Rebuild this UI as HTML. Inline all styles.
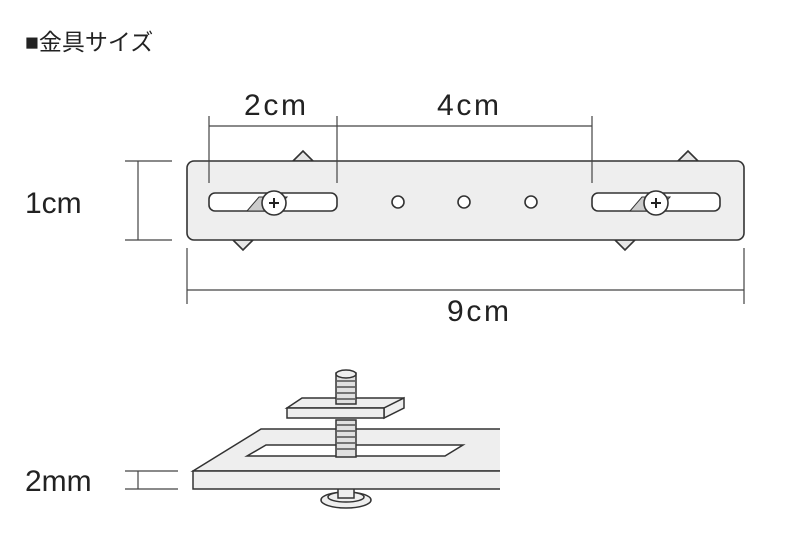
<!DOCTYPE html><html><head><style>body{margin:0;background:#fff}svg{display:block}text{font-family:"Liberation Sans","Noto Sans CJK JP",sans-serif;fill:#222}</style></head><body>
<svg width="800" height="560" viewBox="0 0 800 560" xmlns="http://www.w3.org/2000/svg">
<text x="25" y="50" font-size="23">■金具サイズ</text>
<g stroke="#333" stroke-width="1.6" fill="#e6e6e6">
<path d="M293 161 L303 151 L313 161Z M233 240 L243 250 L253 240Z M678 161 L688 151 L698 161Z M615 240 L625 250 L635 240Z"/>
<rect x="187" y="161" width="557" height="79" rx="7" fill="#eee"/>
<rect x="209" y="193" width="128" height="18" rx="6" fill="#fff"/>
<rect x="592" y="193" width="128" height="18" rx="6" fill="#fff"/>
<path d="M247 211 L259 197 L287 197 L275 211Z M630 211 L642 197 L670 197 L658 211Z" fill="#ccc" stroke-width="1"/>
<circle cx="274" cy="203" r="12" fill="#fff"/><circle cx="656" cy="203" r="12" fill="#fff"/>
<circle cx="398" cy="202" r="6" fill="#fff"/><circle cx="464" cy="202" r="6" fill="#fff"/><circle cx="531" cy="202" r="6" fill="#fff"/>
</g>
<g stroke="#222" stroke-width="2"><path d="M269 203h10M274 198v10M651 203h10M656 198v10"/></g>
<g stroke="#444" stroke-width="1.2" fill="none">
<path d="M209 116V183M337 116V183M592 116V183M209 126H592"/>
<path d="M125 161H172M125 240H172M138 161V240"/>
<path d="M187 248V304M744 248V304M187 290H744"/>
<path d="M125 471H178M125 489H178M138 471V489"/>
</g>
<g font-size="30"><text x="244" y="115" textLength="62">2cm</text><text x="437" y="115" textLength="62">4cm</text><text x="25" y="213">1cm</text><text x="447" y="321" textLength="62">9cm</text><text x="25" y="491">2mm</text></g>
<g stroke="#333" stroke-width="1.5" fill="#eee">
<ellipse cx="346" cy="500" rx="25" ry="8"/><ellipse cx="346" cy="497" rx="18" ry="5"/>
<rect x="338" y="488" width="16" height="10"/>
<path d="M500 429 L261 429 L193 471 L500 471"/>
<path d="M500 471 H193 V489 H500" />
<path d="M247 456 L266 445 L463 445 L445 456Z" fill="#fff"/>
<rect x="336" y="420" width="20" height="37" fill="#e0e0e0"/>
<path d="M337 425h18M337 431h18M337 437h18M337 443h18M337 449h18" stroke-width="1.2"/>
<path d="M287 408 L302 398 L404 398 L384 408Z"/>
<path d="M384 408 L404 398 L404 408 L384 418Z"/>
<rect x="287" y="408" width="97" height="10"/>
<rect x="336" y="373" width="20" height="31" fill="#e0e0e0"/>
<ellipse cx="346" cy="374" rx="10" ry="4"/>
<path d="M337 381h18M337 387h18M337 393h18M337 399h18" stroke-width="1.2"/>
</g>
<rect x="194" y="472" width="306" height="16" fill="#eee"/>
</svg></body></html>
